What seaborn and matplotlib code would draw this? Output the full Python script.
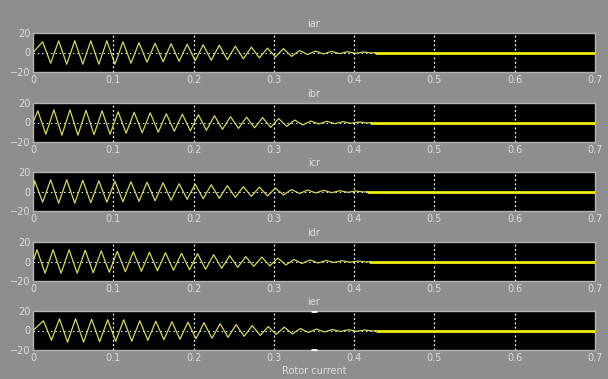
import numpy as np
import pandas as pd
import matplotlib
matplotlib.use("Agg")
import matplotlib.pyplot as plt
import seaborn as sns

# rotor currents, 5 phases, 50 Hz oscillation dying out around 0.42 s
names = ['iar', 'ibr', 'icr', 'idr', 'ier']
first_peak = [0.012, 0.006, 0.002, 0.005, 0.013]   # time of first positive peak (s)
half_period = 0.01                                   # 50 Hz
# peak amplitude for each cycle
env_iar = [11, 12, 12, 12, 12, 11, 10, 9.5, 9, 8.5, 8, 7.5, 6.5, 5.5, 4.5, 4, 2, 1.5, 1.2, 0.8, 0.5]
env_ibr = [12, 13, 13, 12.5, 12, 11, 10.5, 10, 9, 8.5, 8, 7, 6, 5.5, 5, 4, 2.5, 1.5, 1.2, 0.8, 0.5]
env_icr = [11, 12, 12, 11.5, 11, 10.5, 10, 9.5, 9, 8, 7.5, 7, 6, 5, 4.5, 3.5, 2, 1.5, 1.2, 0.8, 0.5]
env_idr = [12, 12, 12, 11.5, 11, 10.5, 10, 9.5, 9, 8.5, 8, 7, 6, 5, 4.5, 3.5, 2, 1.5, 1, 0.8, 0.5]
env_ier = [10, 12, 12, 11.5, 11, 11, 10, 9.5, 9, 8.5, 8, 7, 6, 5, 4, 3.5, 2, 1.5, 1, 0.8, 0.5]
envelopes = [env_iar, env_ibr, env_icr, env_idr, env_ier]
t_end = 0.7
x_ticks = [0, 0.1, 0.2, 0.3, 0.4, 0.5, 0.6, 0.7]
x_labels = ['0', '0.1', '0.2', '0.3', '0.4', '0.5', '0.6', '0.7']
y_ticks = [-20, 0, 20]

bg = '#8e8e8e'
txt = '#dcdcdc'
wave_col = '#d6d65a'
tail_col = '#eeee10'

sns.set_style('dark')
plt.rcParams['font.family'] = ['DejaVu Sans']

fig = plt.figure(figsize=(6.08, 3.79), dpi=100, facecolor=bg)

W, H = 608, 379
tops = [33, 103, 172, 242, 311]
ax_h = 39

for i, name in enumerate(names):
    top = tops[i]
    ax = fig.add_axes([33 / W, (H - top - ax_h) / H, 562 / W, ax_h / H])
    ax.set_facecolor('black')

    env = envelopes[i]
    t = [0.0]
    y = [0.0]
    for k in range(2 * len(env)):
        t.append(first_peak[i] + k * half_period)
        sign = 1 if k % 2 == 0 else -1
        y.append(sign * env[k // 2])
    t_stop = t[-1] + half_period / 2
    t.append(t_stop)
    y.append(0.0)
    wave = pd.DataFrame({'t': t, 'i': y})
    tail = pd.DataFrame({'t': [t_stop, t_end], 'i': [0.0, 0.0]})

    # grid first so the trace sits on top
    for xv in x_ticks[1:-1]:
        ax.axvline(xv, color='white', ls=(0, (1.5, 2)), lw=0.9, zorder=1)
    ax.axhline(0, color='white', ls=(0, (1.5, 3)), lw=0.7, zorder=1)

    sns.lineplot(data=wave, x='t', y='i', ax=ax, color=wave_col, lw=0.9,
                 sort=False, estimator=None, zorder=3)
    sns.lineplot(data=tail, x='t', y='i', ax=ax, color=tail_col, lw=2.0,
                 sort=False, estimator=None, zorder=3)

    if name == 'ier':
        ax.plot([0.35, 0.35], [19.5, -19.5], ls='none', marker='_', ms=5,
                mew=2, color='white', zorder=4)

    ax.set_xlim(0, t_end)
    ax.set_ylim(-20, 20)
    ax.set_xticks(x_ticks)
    ax.set_xticklabels(x_labels)
    ax.set_yticks(y_ticks)
    ax.grid(False)
    ax.tick_params(colors=txt, labelsize=7, length=2, direction='in', pad=2)
    for s in ax.spines.values():
        s.set_visible(True)
        s.set_color('#b4b4b4')
        s.set_linewidth(1.0)
    ax.set_xlabel('')
    ax.set_ylabel('')
    ax.set_title(name, color=txt, fontsize=7, pad=4)
    if name == 'ier':
        ax.set_xlabel('Rotor current', color=txt, fontsize=7, labelpad=2)

fig.savefig('out.png', dpi=100, facecolor=bg)
